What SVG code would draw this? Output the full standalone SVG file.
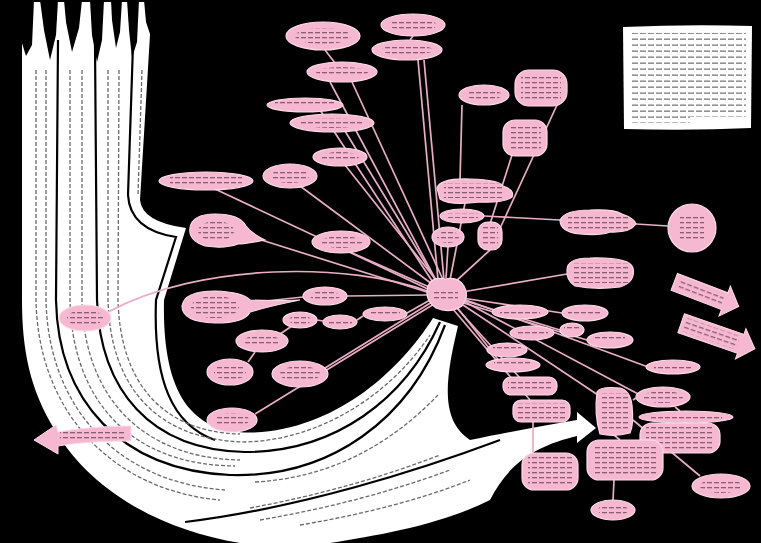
<svg xmlns="http://www.w3.org/2000/svg" width="761" height="543" viewBox="0 0 761 543">
<defs>
<pattern id="tp" width="7" height="5" patternUnits="userSpaceOnUse"><rect x="0" y="2" width="5" height="1.3" fill="#8a5d70"/></pattern>
<pattern id="wp" width="8" height="6" patternUnits="userSpaceOnUse"><rect x="0" y="2.5" width="6" height="1.3" fill="#777"/></pattern>
</defs>
<style>
.n{fill:#f5b8d0;stroke:#fbdbe8;stroke-width:1.2}
.tx{fill:url(#tp)}
.c line,.c path{stroke:#e9aec6;stroke-width:1.7;fill:none}
.sep{fill:none;stroke:#000;stroke-width:2.2}
.wt{fill:none;stroke:#6a6a6a;stroke-width:1.3;stroke-dasharray:4 2}
.pa{fill:#f5b8d0;stroke:#fbdbe8;stroke-width:1}
.dr{fill:#000}
</style>
<rect width="761" height="543" fill="#000"/>

<!-- white river bundle -->
<g id="bundle">
<path fill="#fff" d="M22,2 L152,2 L140,200 Q142,222 186,228 L164,300 C162,395 192,438 262,432 C340,425 400,370 433,318 L458,326 C445,380 440,420 470,440 C510,432 545,425 577,420 L577,412 L596,428 L577,443 L577,436 C540,445 510,460 490,500 C440,525 380,535 330,543 L240,543 C160,530 90,490 55,430 C30,390 22,350 22,300 Z"/>
<path class="dr" d="M16,0 L34,0 L32,45 L26,56 L21,40 L16,50 Z"/>
<path class="dr" d="M40,0 L58,0 L56,35 L50,60 L44,30 Z"/>
<path class="dr" d="M64,0 L82,0 L79,28 L72,52 L66,22 Z"/>
<path class="dr" d="M90,0 L104,0 L102,40 L97,62 L92,35 Z"/>
<path class="dr" d="M111,0 L122,0 L120,32 L116,48 L112,20 Z"/>
<path class="dr" d="M127,0 L139,0 L137,42 L132,58 L129,30 Z"/>
<path class="dr" d="M144,0 L162,0 L160,60 L152,40 L146,22 Z"/>
<path class="sep" d="M58,40 L56,300 C58,400 120,470 230,475 C330,478 410,420 445,325"/>
<path class="sep" d="M95,45 L97,300 C100,390 150,450 245,452 C335,452 405,400 440,322"/>
<path class="sep" d="M133,45 L128,195 Q130,230 176,237 L156,300 C153,380 172,425 215,440"/>
<path class="sep" d="M185,522 C300,508 420,470 500,440"/>
<path class="wt" d="M36,70 L36,300 C38,410 110,490 220,500"/>
<path class="wt" d="M46,70 L46,300 C48,405 115,482 225,490"/>
<path class="wt" d="M70,70 L70,300 C72,400 130,465 235,466"/>
<path class="wt" d="M82,70 L82,300 C84,395 140,458 240,460"/>
<path class="wt" d="M108,70 L108,300 C110,385 155,440 245,442 C320,440 390,395 430,335"/>
<path class="wt" d="M119,70 L118,300 C120,380 160,432 240,434"/>
<path class="wt" d="M142,70 L138,195"/>
<path class="wt" d="M250,508 C320,495 380,478 440,455"/>
<path class="wt" d="M260,520 C330,508 390,492 450,470"/>
<path class="wt" d="M300,525 C360,515 420,500 470,480"/>
<path class="wt" d="M255,482 C330,478 390,445 438,395"/>
</g>

<!-- connectors -->
<g class="c" id="connectors">
<line x1="325" y1="50" x2="335" y2="63"/>
<line x1="330" y1="82" x2="438" y2="284"/>
<line x1="352" y1="82" x2="445" y2="284"/>
<line x1="413" y1="36" x2="410" y2="40"/>
<line x1="418" y1="60" x2="438" y2="280"/>
<line x1="424" y1="60" x2="444" y2="280"/>
<line x1="320" y1="110" x2="434" y2="284"/>
<line x1="345" y1="131" x2="438" y2="284"/>
<line x1="345" y1="165" x2="440" y2="285"/>
<line x1="300" y1="186" x2="436" y2="287"/>
<line x1="215" y1="189" x2="430" y2="290"/>
<line x1="255" y1="238" x2="430" y2="293"/>
<line x1="350" y1="252" x2="436" y2="290"/>
<line x1="462" y1="105" x2="460" y2="180"/>
<line x1="557" y1="105" x2="490" y2="250"/>
<line x1="512" y1="155" x2="490" y2="224"/>
<line x1="465" y1="203" x2="450" y2="280"/>
<line x1="484" y1="216" x2="560" y2="220"/>
<line x1="636" y1="224" x2="668" y2="226"/>
<line x1="448" y1="247" x2="446" y2="278"/>
<line x1="490" y1="250" x2="455" y2="282"/>
<line x1="567" y1="274" x2="462" y2="292"/>
<line x1="562" y1="313" x2="462" y2="298"/>
<line x1="560" y1="330" x2="462" y2="300"/>
<line x1="587" y1="340" x2="460" y2="302"/>
<path d="M108,312 C200,262 350,262 430,292"/>
<line x1="247" y1="303" x2="303" y2="297"/>
<line x1="347" y1="296" x2="428" y2="295"/>
<line x1="317" y1="320" x2="323" y2="321"/>
<line x1="357" y1="320" x2="363" y2="316"/>
<line x1="407" y1="313" x2="430" y2="300"/>
<line x1="280" y1="334" x2="292" y2="326"/>
<line x1="248" y1="362" x2="255" y2="352"/>
<line x1="325" y1="368" x2="432" y2="302"/>
<line x1="255" y1="414" x2="434" y2="304"/>
<line x1="500" y1="362" x2="456" y2="306"/>
<line x1="520" y1="378" x2="455" y2="306"/>
<line x1="530" y1="400" x2="452" y2="308"/>
<line x1="598" y1="395" x2="463" y2="305"/>
<line x1="640" y1="395" x2="465" y2="302"/>
<line x1="648" y1="367" x2="466" y2="300"/>
<line x1="614" y1="435" x2="620" y2="440"/>
<line x1="614" y1="480" x2="613" y2="500"/>
<line x1="675" y1="407" x2="680" y2="411"/>
<line x1="633" y1="420" x2="700" y2="476"/>
<line x1="533" y1="422" x2="533" y2="453"/>
<line x1="633" y1="400" x2="636" y2="398"/>
</g>

<!-- hub -->
<g id="hub"><path class="n" d="M428,286 Q432,276 445,279 Q458,276 464,286 Q470,296 462,306 Q450,314 436,308 Q424,300 428,286 Z"/><rect class="tx" x="434" y="289" width="24" height="11"/></g>

<!-- nodes -->
<g id="n1"><ellipse class="n" cx="323" cy="36" rx="37" ry="14"/><ellipse class="tx" cx="323" cy="36" rx="28" ry="8"/></g>
<g id="n2"><ellipse class="n" cx="413" cy="25" rx="32" ry="11"/><ellipse class="tx" cx="413" cy="25" rx="24" ry="6"/></g>
<g id="n3"><ellipse class="n" cx="407" cy="50" rx="35" ry="10"/><ellipse class="tx" cx="407" cy="50" rx="26" ry="5"/></g>
<g id="n4"><ellipse class="n" cx="342" cy="72" rx="35" ry="10"/><ellipse class="tx" cx="342" cy="72" rx="26" ry="5"/></g>
<g id="n5"><ellipse class="n" cx="305" cy="105" rx="38" ry="7"/><rect class="tx" x="275" y="102" width="60" height="5"/></g>
<g id="n6"><ellipse class="n" cx="332" cy="123" rx="42" ry="9"/><ellipse class="tx" cx="332" cy="123" rx="32" ry="5"/></g>
<g id="n7"><ellipse class="n" cx="340" cy="157" rx="27" ry="9"/><ellipse class="tx" cx="340" cy="157" rx="19" ry="5"/></g>
<g id="n8"><ellipse class="n" cx="290" cy="176" rx="27" ry="12"/><ellipse class="tx" cx="290" cy="176" rx="19" ry="7"/></g>
<g id="n9"><ellipse class="n" cx="206" cy="181" rx="47" ry="9"/><rect class="tx" x="170" y="177" width="72" height="7"/></g>
<g id="n10"><path class="n" d="M190,228 Q192,214 215,214 Q240,214 246,226 Q252,234 265,240 Q245,244 238,244 Q225,249 205,246 Q188,240 190,228 Z"/><ellipse class="tx" cx="216" cy="231" rx="18" ry="10"/></g>
<g id="n11"><ellipse class="n" cx="341" cy="242" rx="29" ry="11"/><ellipse class="tx" cx="341" cy="242" rx="21" ry="6"/></g>
<g id="n12"><ellipse class="n" cx="484" cy="95" rx="25" ry="10"/><ellipse class="tx" cx="484" cy="95" rx="18" ry="5"/></g>
<g id="n13"><rect class="n" x="515" y="70" width="52" height="36" rx="14"/><rect class="tx" x="521" y="75" width="40" height="26"/></g>
<g id="n14"><rect class="n" x="503" y="120" width="44" height="36" rx="12"/><rect class="tx" x="509" y="125" width="32" height="26"/></g>
<g id="n15"><path class="n" d="M437,188 Q440,178 470,179 Q500,180 503,186 Q515,190 512,197 Q505,203 480,202 Q450,206 440,199 Z"/><rect class="tx" x="444" y="183" width="60" height="15"/></g>
<g id="n16"><ellipse class="n" cx="462" cy="216" rx="22" ry="7"/><rect class="tx" x="446" y="213" width="32" height="5"/></g>
<g id="n17"><ellipse class="n" cx="448" cy="237" rx="16" ry="10"/><ellipse class="tx" cx="448" cy="237" rx="11" ry="6"/></g>
<g id="n18"><rect class="n" x="478" y="222" width="24" height="28" rx="10"/><rect class="tx" x="482" y="227" width="16" height="18"/></g>
<g id="n19"><path class="n" d="M560,220 Q565,210 590,210 Q615,209 622,214 Q634,218 636,224 Q630,233 610,232 Q600,236 580,234 Q560,232 560,220 Z"/><rect class="tx" x="568" y="215" width="60" height="14"/></g>
<g id="n20"><circle class="n" cx="692" cy="228" r="24"/><rect class="tx" x="680" y="217" width="24" height="22"/></g>
<g id="n21"><path class="n" d="M567,270 Q567,258 590,258 Q630,257 633,268 Q636,282 620,287 Q595,290 575,286 Q566,280 567,270 Z"/><rect class="tx" x="574" y="263" width="54" height="20"/></g>
<g id="n23"><ellipse class="n" cx="585" cy="313" rx="23" ry="8"/><rect class="tx" x="568" y="310" width="34" height="5"/></g>
<g id="n24"><ellipse class="n" cx="572" cy="330" rx="12" ry="7"/><rect class="tx" x="564" y="327" width="16" height="5"/></g>
<g id="n25"><ellipse class="n" cx="610" cy="340" rx="23" ry="8"/><rect class="tx" x="595" y="337" width="30" height="5"/></g>
<g id="n26"><ellipse class="n" cx="520" cy="312" rx="28" ry="7"/><rect class="tx" x="500" y="309" width="40" height="5"/></g>
<g id="n27"><ellipse class="n" cx="532" cy="333" rx="22" ry="7"/><rect class="tx" x="516" y="330" width="32" height="5"/></g>
<g id="n28"><ellipse class="n" cx="507" cy="350" rx="20" ry="7"/><rect class="tx" x="493" y="347" width="28" height="5"/></g>
<g id="n29"><ellipse class="n" cx="513" cy="365" rx="27" ry="7"/><rect class="tx" x="494" y="362" width="38" height="5"/></g>
<g id="n30"><rect class="n" x="503" y="377" width="54" height="18" rx="8"/><rect class="tx" x="508" y="380" width="44" height="12"/></g>
<g id="n31"><rect class="n" x="513" y="400" width="57" height="22" rx="8"/><rect class="tx" x="518" y="403" width="47" height="16"/></g>
<g id="n32"><path class="n" d="M597,392 Q600,386 620,388 Q630,390 632,405 Q634,425 630,433 Q615,437 600,434 Q594,415 597,392 Z"/><rect class="tx" x="602" y="393" width="26" height="38"/></g>
<g id="n33"><ellipse class="n" cx="663" cy="397" rx="27" ry="10"/><ellipse class="tx" cx="663" cy="397" rx="20" ry="6"/></g>
<g id="n34"><ellipse class="n" cx="686" cy="417" rx="47" ry="6"/><rect class="tx" x="650" y="415" width="72" height="4"/></g>
<g id="n35"><rect class="n" x="640" y="423" width="80" height="30" rx="12"/><rect class="tx" x="646" y="427" width="68" height="22"/></g>
<g id="n36"><rect class="n" x="587" y="440" width="76" height="40" rx="12"/><rect class="tx" x="593" y="444" width="64" height="32"/></g>
<g id="n37"><rect class="n" x="522" y="453" width="56" height="37" rx="12"/><rect class="tx" x="528" y="457" width="44" height="29"/></g>
<g id="n38"><ellipse class="n" cx="721" cy="486" rx="29" ry="12"/><ellipse class="tx" cx="721" cy="486" rx="21" ry="7"/></g>
<g id="n39"><ellipse class="n" cx="613" cy="510" rx="22" ry="10"/><ellipse class="tx" cx="613" cy="510" rx="15" ry="6"/></g>
<g id="n40"><ellipse class="n" cx="673" cy="367" rx="27" ry="7"/><rect class="tx" x="654" y="364" width="38" height="5"/></g>
<g id="n41"><path class="n" d="M182,306 Q184,291 215,291 Q243,292 250,300 Q270,301 300,300 Q270,306 250,312 Q245,323 215,323 Q182,322 182,306 Z"/><ellipse class="tx" cx="215" cy="307" rx="24" ry="11"/></g>
<g id="n42"><ellipse class="n" cx="325" cy="296" rx="22" ry="9"/><ellipse class="tx" cx="325" cy="296" rx="15" ry="5"/></g>
<g id="n43"><ellipse class="n" cx="300" cy="320" rx="17" ry="8"/><ellipse class="tx" cx="300" cy="320" rx="11" ry="5"/></g>
<g id="n44"><ellipse class="n" cx="340" cy="322" rx="17" ry="7"/><rect class="tx" x="328" y="319" width="24" height="5"/></g>
<g id="n45"><ellipse class="n" cx="385" cy="314" rx="22" ry="7"/><rect class="tx" x="370" y="311" width="30" height="5"/></g>
<g id="n46"><ellipse class="n" cx="262" cy="341" rx="26" ry="11"/><ellipse class="tx" cx="262" cy="341" rx="18" ry="6"/></g>
<g id="n47"><ellipse class="n" cx="230" cy="372" rx="23" ry="13"/><ellipse class="tx" cx="230" cy="372" rx="16" ry="8"/></g>
<g id="n48"><ellipse class="n" cx="300" cy="374" rx="28" ry="13"/><ellipse class="tx" cx="300" cy="374" rx="20" ry="8"/></g>
<g id="n49"><ellipse class="n" cx="232" cy="420" rx="25" ry="12"/><ellipse class="tx" cx="232" cy="420" rx="17" ry="7"/></g>
<g id="n50"><ellipse class="n" cx="85" cy="318" rx="26" ry="13"/><ellipse class="tx" cx="85" cy="318" rx="18" ry="8"/></g>

<!-- white text box -->
<g id="notebox">
<path fill="#fff" d="M623,27 Q690,24 752,26 L751,128 Q690,131 624,129 Z"/>
<rect x="630" y="33" width="116" height="90" fill="url(#wp)"/>
<rect x="690" y="117" width="60" height="8" fill="#fff"/>
</g>

<!-- pink arrows -->
<g id="arrow-left"><path class="pa" d="M131,426 C110,426 80,428 58,432 L56,425 L34,440 L58,454 L58,446 C80,442 110,441 131,441 Z"/><rect class="tx" x="60" y="431" width="66" height="8"/></g>
<g id="arrow-r1" transform="translate(706,294) rotate(21)"><path class="pa" d="M-34,-9 L20,-9 L20,-16 L35,0 L20,16 L20,9 L-34,9 Z"/><rect class="tx" x="-30" y="-6" width="48" height="12"/></g>
<g id="arrow-r2" transform="translate(718,336) rotate(19)"><path class="pa" d="M-39,-10 L24,-10 L24,-16 L39,0 L24,16 L24,10 L-39,10 Z"/><rect class="tx" x="-35" y="-7" width="56" height="14"/></g>
</svg>
